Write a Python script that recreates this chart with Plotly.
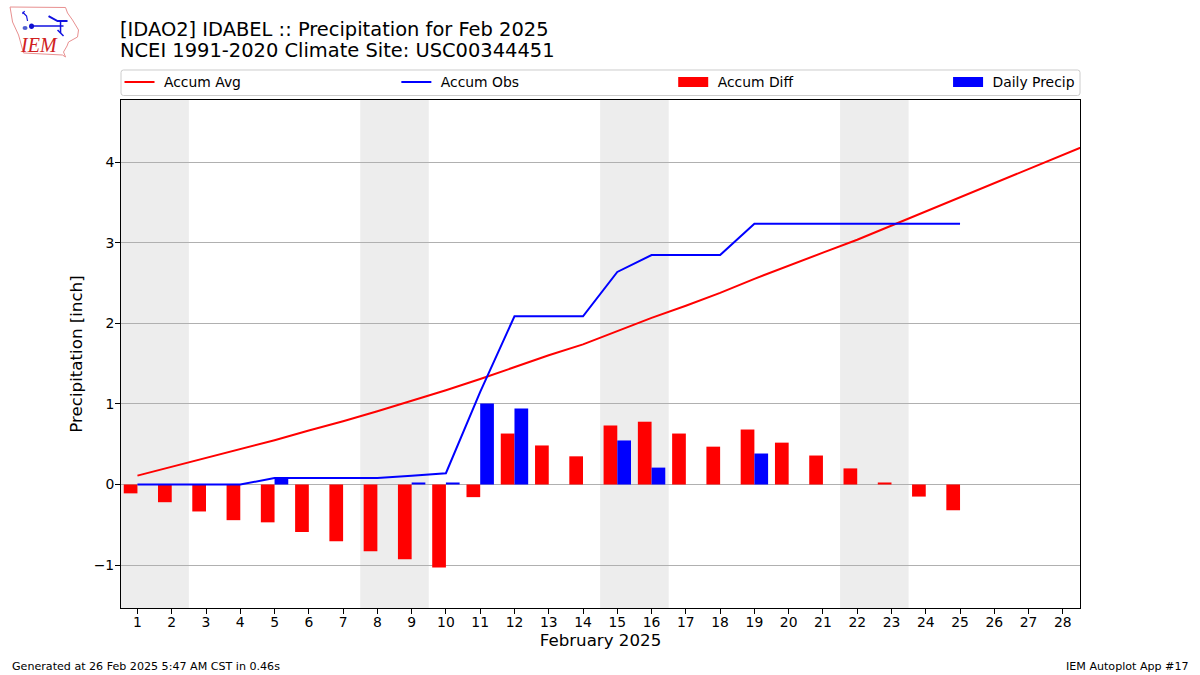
import plotly.graph_objects as go

W, H = 1200, 675
L, R, T, B = 120.5, 1080, 100, 608

days = list(range(1, 30))
tick_days = list(range(1, 29))
accum_avg = [0.11, 0.22, 0.335, 0.443, 0.55, 0.67, 0.785, 0.91, 1.04, 1.17,
             1.31, 1.46, 1.605, 1.74, 1.905, 2.07, 2.22, 2.38, 2.555, 2.72,
             2.88, 3.04, 3.215, 3.39, 3.56, 3.74, 3.91, 4.09, 4.27]
obs_days = list(range(1, 26))
accum_obs = [0, 0, 0, 0, 0.08, 0.08, 0.08, 0.08, 0.11, 0.14,
             1.15, 2.09, 2.09, 2.09, 2.64, 2.85, 2.85, 2.85, 3.24, 3.24,
             3.24, 3.24, 3.24, 3.24, 3.24]
accum_diff = [-0.11, -0.22, -0.335, -0.443, -0.47, -0.59, -0.705, -0.83, -0.93, -1.03,
              -0.157, 0.633, 0.485, 0.35, 0.733, 0.78, 0.633, 0.47, 0.683, 0.52,
              0.36, 0.2, 0.025, -0.15, -0.32]
daily_precip = [0, 0, 0, 0, 0.083, 0, 0, 0, 0.025, 0.025,
                1.006, 0.944, 0, 0, 0.547, 0.21, 0, 0, 0.385, 0,
                0, 0, 0, 0, 0]
weekends = [(0.52, 2.5), (7.5, 9.5), (14.5, 16.5), (21.5, 23.5)]

RED, BLUE = "#ff0000", "#0000ff"
FONT = "DejaVu Sans"
GAP = "\u00a0"


def px(x):
    return (x - L) / (R - L)


def py(y):
    return (B - y) / (B - T)


fig = go.Figure()
fig.add_bar(x=obs_days, y=accum_diff, width=0.4, offset=-0.4, marker=dict(color=RED, line_width=0),
            showlegend=False, name="Accum Diff")
fig.add_bar(x=obs_days, y=daily_precip, width=0.4, offset=0, marker=dict(color=BLUE, line_width=0),
            showlegend=False, name="Daily Precip")
fig.add_scatter(x=days, y=accum_avg, mode="lines", line=dict(color=RED, width=2), name=GAP + "Accum Avg", legend="legend")
fig.add_scatter(x=obs_days, y=accum_obs, mode="lines", line=dict(color=BLUE, width=2), name=GAP + "Accum Obs", legend="legend2")
fig.add_scatter(x=[None], y=[None], mode="lines", line=dict(color=RED, width=10), name=GAP + "Accum Diff", legend="legend3")
fig.add_scatter(x=[None], y=[None], mode="lines", line=dict(color=BLUE, width=10), name=GAP + "Daily Precip", legend="legend4")

shapes = [dict(type="rect", xref="x", yref="paper", x0=a, x1=b, y0=0, y1=1, layer="below",
               fillcolor="#ededed", line_width=0) for a, b in weekends]

fx = lambda v: f"{px(v):.5f}"
fy = lambda v: f"{py(v):.5f}"
shapes.append(dict(type="path", xref="paper", yref="paper", layer="above",
                   path=f"M{fx(123)},{fy(70)} L{fx(1077.5)},{fy(70)} Q{fx(1080)},{fy(70)} {fx(1080)},{fy(72.5)} "
                        f"L{fx(1080)},{fy(93)} Q{fx(1080)},{fy(95.5)} {fx(1077.5)},{fy(95.5)} "
                        f"L{fx(123)},{fy(95.5)} Q{fx(120.5)},{fy(95.5)} {fx(120.5)},{fy(93)} "
                        f"L{fx(120.5)},{fy(72.5)} Q{fx(120.5)},{fy(70)} {fx(123)},{fy(70)} Z",
                   line=dict(color="#cccccc", width=1), fillcolor="rgba(0,0,0,0)"))


def logo_path(points, close=False):
    s = "M" + " L".join(f"{fx(a)},{fy(b)}" for a, b in points)
    return s + (" Z" if close else "")


outline = [(9.5, 7), (65, 7.5), (67, 13), (72, 20), (78, 30), (77, 37), (68, 42), (66.5, 46),
           (63, 52), (65, 57), (62, 55), (23, 53), (18, 35), (12, 22)]
shapes.append(dict(type="path", xref="paper", yref="paper", path=logo_path(outline, True),
                   line=dict(color="#e89090", width=1), fillcolor="#ffffff"))
for pts, w in [([(31, 26), (63, 26)], 1.5), ([(60, 21), (60, 33)], 1.5), ([(48, 16), (57, 21), (60, 21), (67, 21)], 2),
               ([(22, 12), (26, 16), (27, 21)], 1.2), ([(24, 11), (22, 14)], 1.2), ([(57, 30), (63, 36)], 1.5)]:
    shapes.append(dict(type="path", xref="paper", yref="paper", path=logo_path(pts), line=dict(color="#1010e0", width=w)))
shapes.append(dict(type="circle", xref="paper", yref="paper", x0=px(28.5), x1=px(33.5), y0=py(29), y1=py(23.5),
                   fillcolor="#1010d0", line_width=0))
shapes.append(dict(type="circle", xref="paper", yref="paper", x0=px(22), x1=px(27), y0=py(30), y1=py(26),
                   fillcolor="#5060d0", line_width=0))


def legend_at(x):
    return dict(x=px(x), y=py(82.5), xref="paper", yref="paper", xanchor="left", yanchor="middle",
                bgcolor="rgba(0,0,0,0)", borderwidth=0, itemwidth=30, font=dict(family=FONT, size=13.9, color="#000"),
                tracegroupgap=0, itemclick=False, itemdoubleclick=False)


annotations = [
    dict(x=px(117), y=py(50.5), xref="paper", yref="paper", xanchor="left", yanchor="middle", showarrow=False,
         text="NCEI 1991-2020 Climate Site: USC00344451", font=dict(family=FONT, size=19.44, color="#000")),
    dict(x=px(9), y=py(666.5), xref="paper", yref="paper", xanchor="left", yanchor="middle", showarrow=False,
         text="Generated at 26 Feb 2025 5:47 AM CST in 0.46s", font=dict(family=FONT, size=11.1, color="#000")),
    dict(x=px(1191), y=py(666.5), xref="paper", yref="paper", xanchor="right", yanchor="middle", showarrow=False,
         text="IEM Autoplot App #17", font=dict(family=FONT, size=11.1, color="#000")),
    dict(x=px(38), y=py(45), xref="paper", yref="paper", xanchor="center", yanchor="middle", showarrow=False,
         text="<i>IEM</i>", font=dict(family="Liberation Serif", size=20, color="#d02020")),
]

fig.update_layout(
    width=W, height=H, autosize=False,
    margin=dict(l=L, r=W - R, t=T, b=H - B, pad=0),
    paper_bgcolor="#ffffff", plot_bgcolor="#ffffff",
    font=dict(family=FONT, size=13.9, color="#000"),
    barmode="overlay",
    title=dict(text="[IDAO2] IDABEL :: Precipitation for Feb 2025", x=120 / W, xanchor="left", xref="container",
               y=1 - 29 / H, yanchor="middle", yref="container", font=dict(family=FONT, size=19.44, color="#000")),
    xaxis=dict(range=[0.52, 28.5], tickmode="array", tickvals=tick_days, ticktext=[str(d) for d in tick_days],
               ticks="outside", ticklen=5, tickwidth=1, tickcolor="#000", showgrid=False, zeroline=False,
               showline=True, linecolor="#000", linewidth=1, mirror=True, ticklabelstandoff=-4,
               tickfont=dict(family=FONT, size=13.9, color="#000"),
               title=dict(text="February 2025", font=dict(family=FONT, size=16.67, color="#000"), standoff=5)),
    yaxis=dict(range=[-1.534, 4.776], tickmode="array", tickvals=[-1, 0, 1, 2, 3, 4],
               ticks="outside", ticklen=5, tickwidth=1, tickcolor="#000", showgrid=True, gridcolor="#b0b0b0", gridwidth=1,
               zeroline=False, showline=True, linecolor="#000", linewidth=1, mirror=True, ticklabelstandoff=-2,
               tickfont=dict(family=FONT, size=13.9, color="#000"),
               title=dict(text="Precipitation [inch]", font=dict(family=FONT, size=16.67, color="#000"), standoff=6)),
    legend=legend_at(119), legend2=legend_at(396), legend3=legend_at(673), legend4=legend_at(948),
    shapes=shapes, annotations=annotations,
)
fig.write_html("out.html", config=dict(displayModeBar=False),
               post_script="document.body.style.margin='0';document.documentElement.style.overflow='hidden';")
